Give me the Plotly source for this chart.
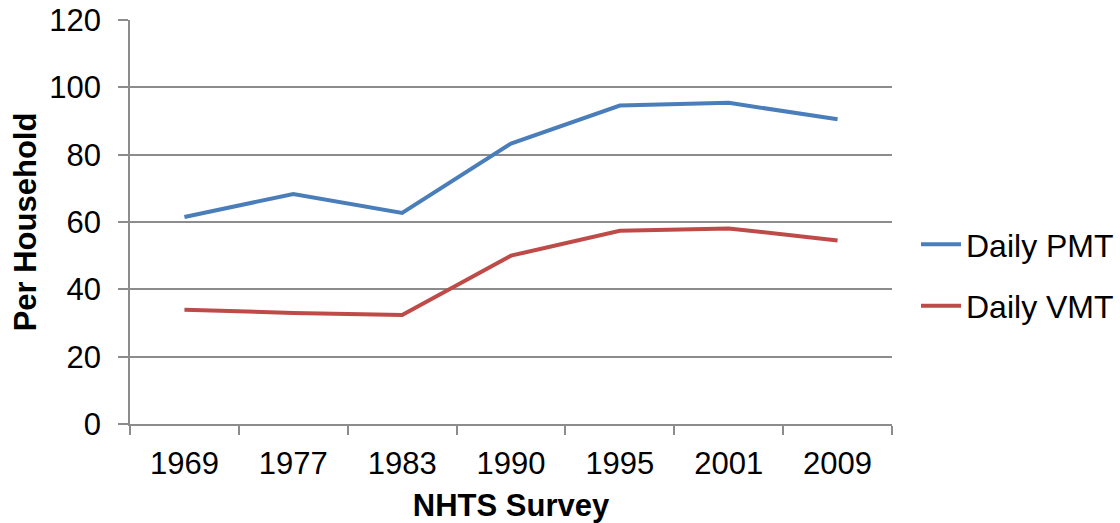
import plotly.graph_objs as go

# NHTS survey years and per-household daily miles
years = ['1969', '1977', '1983', '1990', '1995', '2001', '2009']
daily_pmt = [61.5, 68.3, 62.7, 83.3, 94.6, 95.4, 90.5]
daily_vmt = [33.9, 33.0, 32.4, 50.0, 57.4, 58.1, 54.5]

font_family = 'Liberation Sans, Arial, sans-serif'
grid_color = '#8c8c8c'

fig = go.Figure()
fig.add_trace(go.Scatter(
    x=years, y=daily_pmt, mode='lines', name='Daily PMT',
    legendgroup='pmt',
    line=dict(color='#4a7ebb', width=4)))
fig.add_trace(go.Scatter(
    x=years, y=daily_vmt, mode='lines', name='Daily VMT',
    legendgroup='vmt',
    line=dict(color='#be4b48', width=4)))

fig.update_layout(
    width=1120, height=523,
    margin=dict(l=130, r=228, t=20, b=99, autoexpand=False),
    paper_bgcolor='white', plot_bgcolor='white',
    font=dict(family=font_family, size=31, color='black'),
    showlegend=True,
    legend=dict(x=1.0315, xanchor='left', y=0.368, yanchor='middle',
                traceorder='grouped', tracegroupgap=17,
                font=dict(size=32), itemwidth=40),
    xaxis=dict(
        type='category', range=[-0.5, 6.5], automargin=False,
        showgrid=False,
        showline=True, linecolor=grid_color, linewidth=1.5,
        ticks='outside', tickson='boundaries', ticklen=9,
        tickcolor=grid_color, tickwidth=1.5,
        ticklabelstandoff=11,
        title=dict(text='<b>NHTS Survey</b>', standoff=14,
                   font=dict(size=31)),
    ),
    yaxis=dict(
        range=[0, 120], dtick=20, automargin=False,
        showgrid=True, gridcolor=grid_color, gridwidth=1.5,
        zeroline=False,
        showline=True, linecolor=grid_color, linewidth=1.5,
        ticks='outside', ticklen=10,
        tickcolor=grid_color, tickwidth=1.5,
        ticklabelstandoff=11,
        title=dict(text='<b>Per Household</b>', standoff=3,
                   font=dict(size=31)),
    ),
)

# drop the page's default 8px body margin so the figure fills the window
fig.write_html('out.html', config={'displayModeBar': False},
               post_script="document.body.style.margin = '0';")
